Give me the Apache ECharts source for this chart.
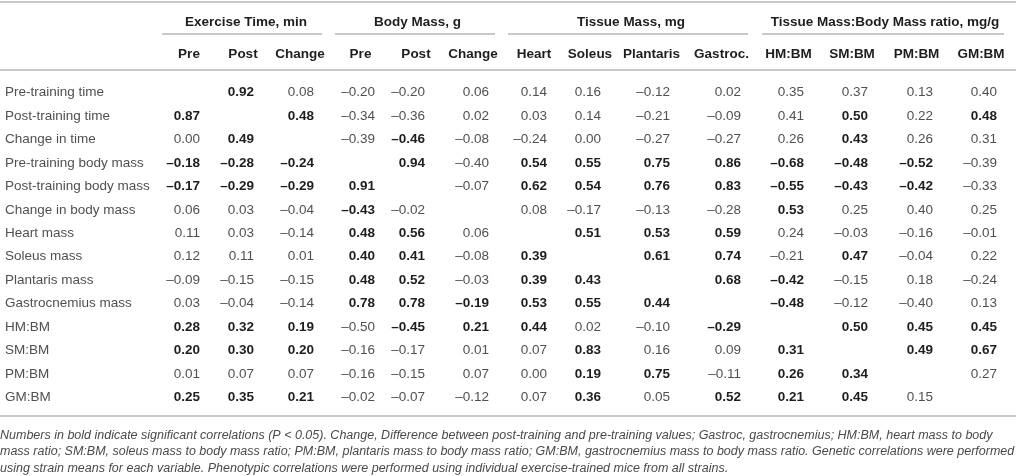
<!DOCTYPE html>
<html>
<head>
<meta charset="utf-8">
<title>Correlations</title>
<script src="https://cdn.jsdelivr.net/npm/echarts@6.0.0/dist/echarts.min.js"></script>
<style>
    html, body { margin: 0; padding: 0; background: #fff; }
    #corr_table { width: 1016px; height: 476px; }
</style>
</head>
<body>
<div id="corr_table"></div>
<script>
// column groups and their columns
var groups = ['Exercise Time, min', 'Body Mass, g', 'Tissue Mass, mg', 'Tissue Mass:Body Mass ratio, mg/g'];
var groupColumns = [
    ['Pre', 'Post', 'Change'],
    ['Pre', 'Post', 'Change'],
    ['Heart', 'Soleus', 'Plantaris', 'Gastroc.'],
    ['HM:BM', 'SM:BM', 'PM:BM', 'GM:BM']
];
var rowNames = [
    'Pre-training time', 'Post-training time', 'Change in time',
    'Pre-training body mass', 'Post-training body mass', 'Change in body mass',
    'Heart mass', 'Soleus mass', 'Plantaris mass', 'Gastrocnemius mass',
    'HM:BM', 'SM:BM', 'PM:BM', 'GM:BM'
];
// correlation coefficients, one row per variable (null = diagonal)
var values = [
    [null, 0.92, 0.08, -0.20, -0.20, 0.06, 0.14, 0.16, -0.12, 0.02, 0.35, 0.37, 0.13, 0.40],
    [0.87, null, 0.48, -0.34, -0.36, 0.02, 0.03, 0.14, -0.21, -0.09, 0.41, 0.50, 0.22, 0.48],
    [0.00, 0.49, null, -0.39, -0.46, -0.08, -0.24, 0.00, -0.27, -0.27, 0.26, 0.43, 0.26, 0.31],
    [-0.18, -0.28, -0.24, null, 0.94, -0.40, 0.54, 0.55, 0.75, 0.86, -0.68, -0.48, -0.52, -0.39],
    [-0.17, -0.29, -0.29, 0.91, null, -0.07, 0.62, 0.54, 0.76, 0.83, -0.55, -0.43, -0.42, -0.33],
    [0.06, 0.03, -0.04, -0.43, -0.02, null, 0.08, -0.17, -0.13, -0.28, 0.53, 0.25, 0.40, 0.25],
    [0.11, 0.03, -0.14, 0.48, 0.56, 0.06, null, 0.51, 0.53, 0.59, 0.24, -0.03, -0.16, -0.01],
    [0.12, 0.11, 0.01, 0.40, 0.41, -0.08, 0.39, null, 0.61, 0.74, -0.21, 0.47, -0.04, 0.22],
    [-0.09, -0.15, -0.15, 0.48, 0.52, -0.03, 0.39, 0.43, null, 0.68, -0.42, -0.15, 0.18, -0.24],
    [0.03, -0.04, -0.14, 0.78, 0.78, -0.19, 0.53, 0.55, 0.44, null, -0.48, -0.12, -0.40, 0.13],
    [0.28, 0.32, 0.19, -0.50, -0.45, 0.21, 0.44, 0.02, -0.10, -0.29, null, 0.50, 0.45, 0.45],
    [0.20, 0.30, 0.20, -0.16, -0.17, 0.01, 0.07, 0.83, 0.16, 0.09, 0.31, null, 0.49, 0.67],
    [0.01, 0.07, 0.07, -0.16, -0.15, 0.07, 0.00, 0.19, 0.75, -0.11, 0.26, 0.34, null, 0.27],
    [0.25, 0.35, 0.21, -0.02, -0.07, -0.12, 0.07, 0.36, 0.05, 0.52, 0.21, 0.45, 0.15, null]
];
// 1 = significant (P < 0.05), shown in bold
var significant = [
    [0, 1, 0, 0, 0, 0, 0, 0, 0, 0, 0, 0, 0, 0],
    [1, 0, 1, 0, 0, 0, 0, 0, 0, 0, 0, 1, 0, 1],
    [0, 1, 0, 0, 1, 0, 0, 0, 0, 0, 0, 1, 0, 0],
    [1, 1, 1, 0, 1, 0, 1, 1, 1, 1, 1, 1, 1, 0],
    [1, 1, 1, 1, 0, 0, 1, 1, 1, 1, 1, 1, 1, 0],
    [0, 0, 0, 1, 0, 0, 0, 0, 0, 0, 1, 0, 0, 0],
    [0, 0, 0, 1, 1, 0, 0, 1, 1, 1, 0, 0, 0, 0],
    [0, 0, 0, 1, 1, 0, 1, 0, 1, 1, 0, 1, 0, 0],
    [0, 0, 0, 1, 1, 0, 1, 1, 0, 1, 1, 0, 0, 0],
    [0, 0, 0, 1, 1, 1, 1, 1, 1, 0, 1, 0, 0, 0],
    [1, 1, 1, 0, 1, 1, 1, 0, 0, 1, 0, 1, 1, 1],
    [1, 1, 1, 0, 0, 0, 0, 1, 0, 0, 1, 0, 1, 1],
    [0, 0, 0, 0, 0, 0, 0, 1, 1, 0, 1, 1, 0, 0],
    [1, 1, 1, 0, 0, 0, 0, 1, 0, 1, 1, 1, 0, 0]
];
var footnote = [
    'Numbers in bold indicate significant correlations (P < 0.05). Change, Difference between post-training and pre-training values; Gastroc, gastrocnemius; HM:BM, heart mass to body',
    'mass ratio; SM:BM, soleus mass to body mass ratio; PM:BM, plantaris mass to body mass ratio; GM:BM, gastrocnemius mass to body mass ratio. Genetic correlations were performed',
    'using strain means for each variable. Phenotypic correlations were performed using individual exercise-trained mice from all strains.'
];

// layout (pixels)
var colWidths = [54, 54, 60, 61, 50, 64, 58, 54, 69, 71, 63, 64, 65, 64];
var FONT = "'Liberation Sans', Arial, Helvetica, sans-serif";

function fmt(v) {
    var s = Math.abs(v).toFixed(2);
    return v < 0 ? '\u2013' + s : s;
}

// column keys must be unique in the matrix, so repeated names get
// invisible zero-width spaces appended (one per group index)
var xData = [];
var k = 0;
for (var g = 0; g < groups.length; g++) {
    var children = [];
    for (var c = 0; c < groupColumns[g].length; c++) {
        children.push({value: groupColumns[g][c] + new Array(g + 1).join('\u200B'), size: colWidths[k++]});
    }
    xData.push({value: groups[g], children: children});
}

var cells = [];
for (var r = 0; r < values.length; r++) {
    for (var j = 0; j < values[r].length; j++) {
        if (values[r][j] == null) continue;
        var b = significant[r][j] === 1;
        cells.push({
            coord: [j, r],
            value: fmt(values[r][j]),
            label: {
                fontWeight: b ? 'bold' : 'normal',
                color: b ? '#1e1e1e' : '#505050'
            }
        });
    }
}

var noBox = {color: 'transparent', borderWidth: 0, borderColor: 'transparent'};
var ruleStyle = {stroke: '#c8c8c8', lineWidth: 2};

var option = {
    matrix: {
        left: 0,
        top: 2,
        width: 1013,
        height: 407,
        backgroundStyle: noBox,
        x: {
            data: xData,
            levels: [{levelSize: 32}, {levelSize: 47}],
            itemStyle: noBox,
            dividerLineStyle: {width: 0, color: 'transparent'},
            label: {
                position: 'insideTop',
                distance: 11,
                overflow: 'none',
                fontFamily: FONT,
                fontSize: 13.5,
                fontWeight: 'bold',
                color: '#1e1e1e'
            }
        },
        y: {
            data: rowNames,
            levelSize: 162,
            itemStyle: noBox,
            dividerLineStyle: {width: 0, color: 'transparent'},
            label: {
                position: 'insideLeft',
                distance: 2,
                overflow: 'none',
                fontFamily: FONT,
                fontSize: 13.5,
                color: '#505050'
            }
        },
        corner: {
            itemStyle: noBox
        },
        body: {
            data: cells,
            itemStyle: noBox,
            label: {
                position: 'insideRight',
                distance: 13,
                overflow: 'none',
                fontFamily: FONT,
                fontSize: 13.5
            }
        }
    },
    graphic: [
        {type: 'line', shape: {x1: 0, y1: 2, x2: 1016, y2: 2}, style: ruleStyle},
        {type: 'line', shape: {x1: 162, y1: 34, x2: 322, y2: 34}, style: ruleStyle},
        {type: 'line', shape: {x1: 335, y1: 34, x2: 495, y2: 34}, style: ruleStyle},
        {type: 'line', shape: {x1: 508, y1: 34, x2: 748, y2: 34}, style: ruleStyle},
        {type: 'line', shape: {x1: 762, y1: 34, x2: 1004, y2: 34}, style: ruleStyle},
        {type: 'line', shape: {x1: 0, y1: 70, x2: 1016, y2: 70}, style: ruleStyle},
        {type: 'line', shape: {x1: 0, y1: 416, x2: 1016, y2: 416}, style: ruleStyle},
        {
            type: 'text',
            left: 0,
            top: 427,
            style: {
                text: footnote.join('\n'),
                fontFamily: FONT,
                fontStyle: 'italic',
                fontSize: 12.5,
                lineHeight: 16.5,
                fill: '#4a4a4a'
            }
        }
    ]
};

var chart_table = echarts.init(document.getElementById('corr_table'));
chart_table.setOption(option);
</script>
</body>
</html>
